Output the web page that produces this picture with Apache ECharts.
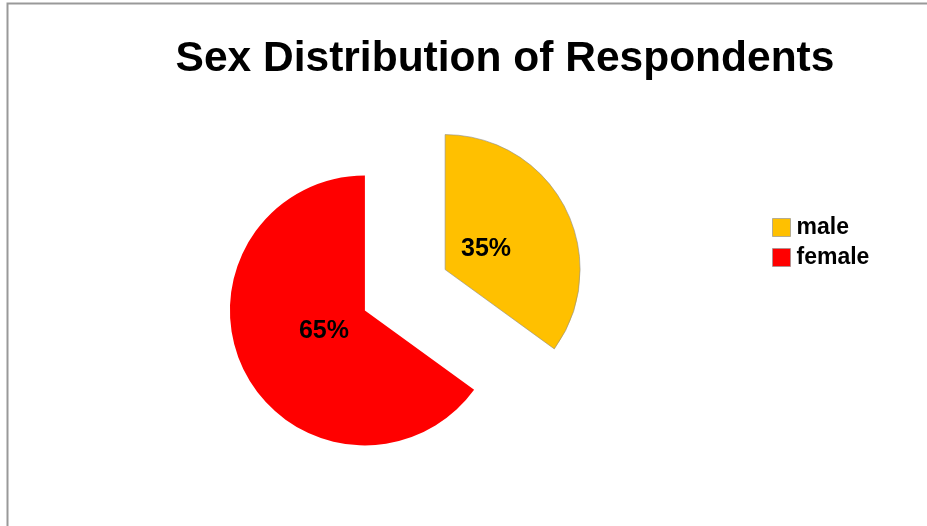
<!DOCTYPE html>
<html>
<head>
<meta charset="utf-8">
<script src="https://cdn.jsdelivr.net/npm/echarts@6/dist/echarts.min.js"></script>
<style>
  html, body { margin: 0; padding: 0; background: #fff; }
  #chart { width: 927px; height: 526px; }
</style>
</head>
<body>
<div id="chart"></div>
<script>
// Respondents by sex (percent)
const categories = ['male', 'female'];
const shares = [35, 65];
const sliceColors = ['#FFC000', '#FF0000'];

const FONT = '"Liberation Sans", Arial, Helvetica, sans-serif';

const chart = echarts.init(document.getElementById('chart'), null, { renderer: 'canvas' });

const pieData = categories.map((name, i) => ({
  name: name,
  value: shares[i],
  selected: true,
  itemStyle: {
    color: sliceColors[i],
    borderColor: i === 0 ? 'rgba(140,140,140,0.6)' : 'rgba(0,0,0,0)',
    borderWidth: i === 0 ? 1 : 0
  }
}));

// transparent copy of the slices, used only to place the percentage labels
const labelData = categories.map((name, i) => ({
  name: name,
  value: shares[i],
  selected: true,
  itemStyle: { color: 'rgba(0,0,0,0)' }
}));

const commonPie = {
  type: 'pie',
  center: [405, 290],
  startAngle: 90,
  clockwise: true,
  selectedMode: 'multiple',
  selectedOffset: 45,
  animation: false,
  legendHoverLink: false,
  emphasis: { disabled: true, scale: false },
  labelLine: { show: false }
};

chart.setOption({
  backgroundColor: '#ffffff',
  animation: false,
  title: {
    text: 'Sex Distribution of Respondents',
    left: 500,
    top: 33,
    textAlign: 'center',
    textStyle: { fontFamily: FONT, fontSize: 42.5, fontWeight: 'bold', color: '#000' }
  },
  legend: {
    orient: 'vertical',
    left: 767,
    top: 211,
    itemWidth: 18,
    itemHeight: 18,
    itemGap: 7,
    icon: 'rect',
    selectedMode: false,
    data: categories,
    itemStyle: { borderColor: 'rgba(150,150,150,0.7)', borderWidth: 1 },
    textStyle: { fontFamily: FONT, fontSize: 23, fontWeight: 'bold', color: '#000', padding: [0, 0, 0, 1] }
  },
  graphic: [
    {
      type: 'polyline',
      silent: true,
      shape: { points: [[7.5, 526], [7.5, 3.5], [927, 3.5]] },
      style: { stroke: '#999', lineWidth: 2, fill: null }
    }
  ],
  series: [
    Object.assign({}, commonPie, {
      name: 'slices',
      radius: 135,
      label: { show: false },
      data: pieData
    }),
    Object.assign({}, commonPie, {
      name: 'labels',
      radius: 86,
      silent: true,
      label: {
        show: true,
        position: 'inside',
        formatter: '{c}%',
        padding: [9, 0, 0, 0],
        fontFamily: FONT,
        fontSize: 25,
        fontWeight: 'bold',
        color: '#000'
      },
      data: labelData
    })
  ]
});
</script>
</body>
</html>
